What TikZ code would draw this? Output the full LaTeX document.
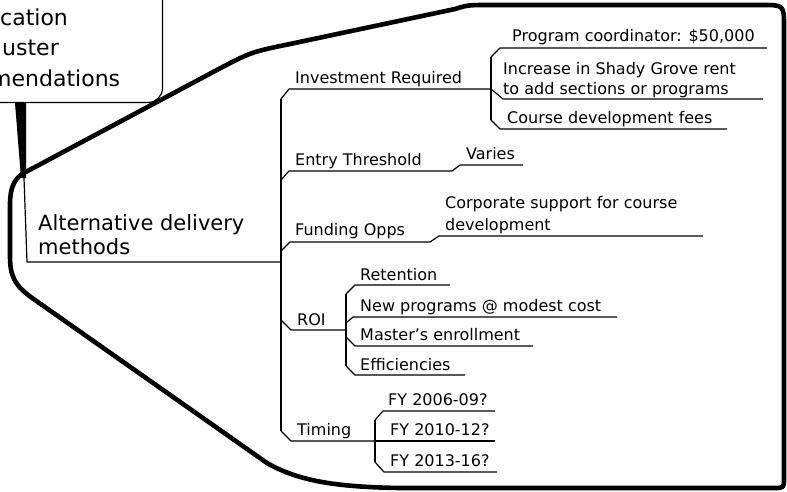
\documentclass[tikz,border=0pt]{standalone}
\usepackage{fontspec}
\setmainfont{DejaVu Sans}
\begin{document}
\begin{tikzpicture}[x=1pt,y=-1pt,
  lbl/.style={inner sep=0pt, anchor=base west, font=\fontsize{16}{20}\selectfont, align=left},
  big/.style={inner sep=0pt, anchor=base west, font=\fontsize{21}{24}\selectfont, align=left},
  cen/.style={inner sep=0pt, anchor=base west, font=\fontsize{22}{30}\selectfont},
  conn/.style={line width=1.2pt, line join=round},
  bound/.style={line width=4.6pt, line join=round, line cap=round}]
\useasboundingbox (0,0) rectangle (787,491);
\clip (0,0) rectangle (787,491);

% parent (central) box, partly outside the picture
\node (root) [draw, line width=1.2pt, rounded corners=14pt, anchor=south east,
  minimum width=220pt, minimum height=150pt, inner sep=0pt] at (163,103) {};
\node (r1) [cen] at (0,25) {cation};
\node (r2) [cen] at (2,55) {uster};
\node (r3) [cen] at (-10,86) {mendations};

% thick boundary round the subtree
\draw[bound] (22,174) -- (215,71) .. controls (251,52) .. (290,44) -- (455,9)
  .. controls (468,5) .. (490,5) -- (762,5) .. controls (784,5) .. (784,27)
  -- (784,478) .. controls (784,488) .. (774,488) -- (400,488)
  .. controls (340,487) and (300,482) .. (267,463) -- (35,300)
  .. controls (13,285) and (10,275) .. (10,255) -- (10,205)
  .. controls (10,188) and (14,180) .. (22,174);

% wedge from the central box to the main topic
\coordinate (wb) at (24,178);
\fill (15,103) -- (26,103) -- (26,178) -- (21,178) -- cycle;

% main topic (base anchor = last line)
\node (alt) [big] at (38,254) {Alternative delivery\\methods};
\coordinate (altl) at (27,262);
\coordinate (altr) at (281,262);
\draw[conn] (wb) -- (altl) -- (altr);

% main spine
\coordinate (sp1) at (281,99);
\coordinate (sp5) at (281,431);
\draw[conn] (sp1) -- (sp5);

% Investment Required
\node (inv) [lbl] at (295,83) {Investment Required};
\coordinate (invj) at (491,89);
\draw[conn] (sp1) -- (289,89) -- (invj);
\draw[conn] (491,57) -- (491,120);
\node (prog) [lbl] at (512,41) {Program coordinator: \$50,000};
\draw[conn] (491,57) -- (500,48) -- (767,48);
\node (incr) [lbl] at (503,94) {Increase in Shady Grove rent\\to add sections or programs};
\draw[conn] (invj) -- (503,99) -- (763,99);
\node (course) [lbl] at (507,123) {Course development fees};
\draw[conn] (491,120) -- (500,129) -- (727,129);

% Entry Threshold
\node (entry) [lbl] at (295,165) {Entry Threshold};
\node (varies) [lbl] at (466,159) {Varies};
\draw[conn] (281,180) -- (289,171) -- (452,171) -- (460,165) -- (523,165);

% Funding Opps
\node (fund) [lbl] at (295,235) {Funding Opps};
\node (corp) [lbl, font=\fontsize{16}{22}\selectfont] at (445,230) {Corporate support for course\\development};
\draw[conn] (281,251) -- (290,242) -- (430,242) -- (439,236) -- (703,236);

% ROI
\node (roi) [lbl] at (297,325) {ROI};
\coordinate (roij) at (346,330);
\draw[conn] (281,320) -- (291,330) -- (roij);
\draw[conn] (346,294) -- (346,366);
\node (ret) [lbl] at (360,280) {Retention};
\draw[conn] (346,294) -- (355,285) -- (450,285);
\node (newp) [lbl] at (360,311) {New programs @ modest cost};
\draw[conn] (346,323) -- (353,317) -- (617,317);
\node (mast) [lbl] at (360,340) {Master's enrollment};
\draw[conn] (346,337) -- (355,346) -- (533,346);
\node (eff) [lbl] at (360,370) {Efficiencies};
\draw[conn] (346,366) -- (355,375) -- (465,375);

% Timing
\node (timing) [lbl] at (297,435) {Timing};
\coordinate (timj) at (375,441);
\draw[conn] (sp5) -- (291,441) -- (timj);
\draw[conn] (375,420) -- (375,462);
\node (fy1) [lbl] at (388,405) {FY 2006-09?};
\draw[conn] (375,420) -- (383,411) -- (495,411);
\node (fy2) [lbl] at (390,435) {FY 2010-12?};
\draw[conn] (timj) -- (495,441);
\node (fy3) [lbl] at (390,466) {FY 2013-16?};
\draw[conn] (375,462) -- (384,472) -- (497,472);
\end{tikzpicture}
\end{document}
